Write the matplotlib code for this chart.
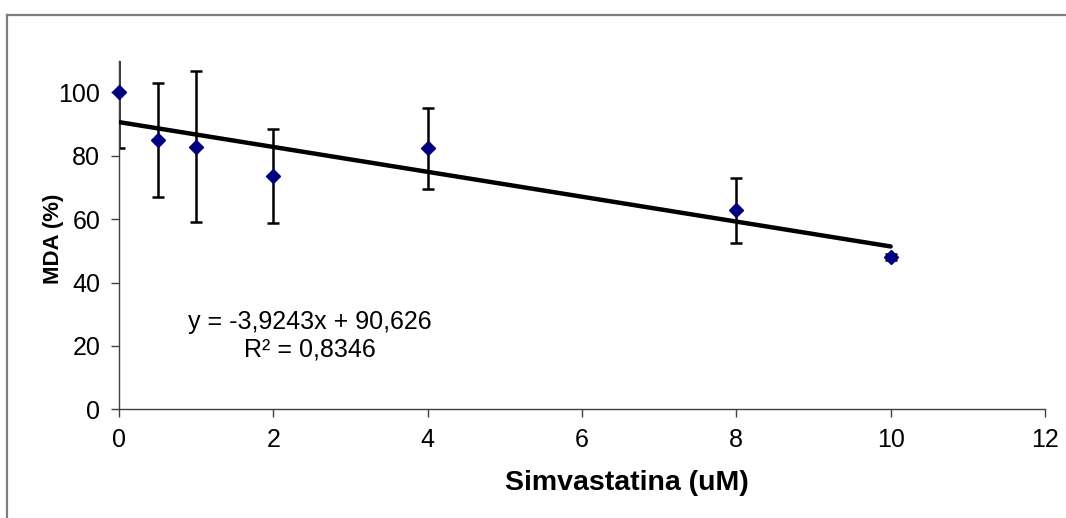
import numpy as np
import matplotlib
matplotlib.use("Agg")
import matplotlib.pyplot as plt
from matplotlib.lines import Line2D

plt.rcParams['font.family'] = ['Liberation Sans', 'DejaVu Sans']

# dados
conc = [0, 0.5, 1, 2, 4, 8, 10]
mda = [100, 85.1, 82.8, 73.6, 82.4, 62.8, 48.1]
mda_err = [17.4, 18.0, 23.8, 14.7, 12.8, 10.2, 1.0]

# linha de tendência (Excel)
slope = -3.9243
intercept = 90.626
r2 = 0.8346

fig = plt.figure(figsize=(10.66, 5.18), dpi=100)
ax = fig.add_axes([119 / 1066, 1 - 409.3 / 518, (1045 - 119) / 1066, (409.3 - 60.7) / 518])

# moldura externa do gráfico
fig.add_artist(Line2D([7.3 / 1066, 1.0], [1 - 14.7 / 518] * 2, transform=fig.transFigure,
                      color="#7f7f7f", lw=1.6))
fig.add_artist(Line2D([7.3 / 1066] * 2, [0.0, 1 - 14.7 / 518], transform=fig.transFigure,
                      color="#7f7f7f", lw=1.6))

ax.errorbar(conc, mda, yerr=mda_err, fmt="none", ecolor="black", elinewidth=1.8,
            capsize=4.5, capthick=1.8, zorder=2)

xt = np.array([min(conc), max(conc)])
ax.plot(xt, slope * xt + intercept, color="black", lw=3.2, solid_capstyle="round", zorder=3)

ax.plot(conc, mda, linestyle="none", marker="D", ms=7.3, color="#000080",
        markeredgecolor="#000080", clip_on=False, zorder=4)

ax.text(310 / 1066, 1 - 322 / 518, "y = -3,9243x + 90,626", transform=fig.transFigure,
        ha="center", va="center", fontsize=18)
ax.text(310 / 1066, 1 - 350 / 518, f"R² = {r2}".replace(".", ","), transform=fig.transFigure,
        ha="center", va="center", fontsize=18)

ax.set_xlim(0, 12)
ax.set_ylim(0, 110)
ax.set_xticks(range(0, 13, 2))
ax.set_yticks(range(0, 101, 20))

for s in ["top", "right"]:
    ax.spines[s].set_visible(False)
for s in ["left", "bottom"]:
    ax.spines[s].set_color("#404040")
    ax.spines[s].set_linewidth(1.0)

ax.tick_params(axis="both", direction="out", length=5.5, width=1.0, color="#404040",
               labelsize=18, pad=8)

fig.text(627 / 1066, 1 - 483 / 518, "Simvastatina (uM)", ha="center", va="center",
         fontsize=20.5, fontweight="bold")
fig.text(53 / 1066, 1 - 239 / 518, "MDA (%)", ha="center", va="center",
         fontsize=16, fontweight="bold", rotation=90)

fig.savefig("out.png", dpi=100)
